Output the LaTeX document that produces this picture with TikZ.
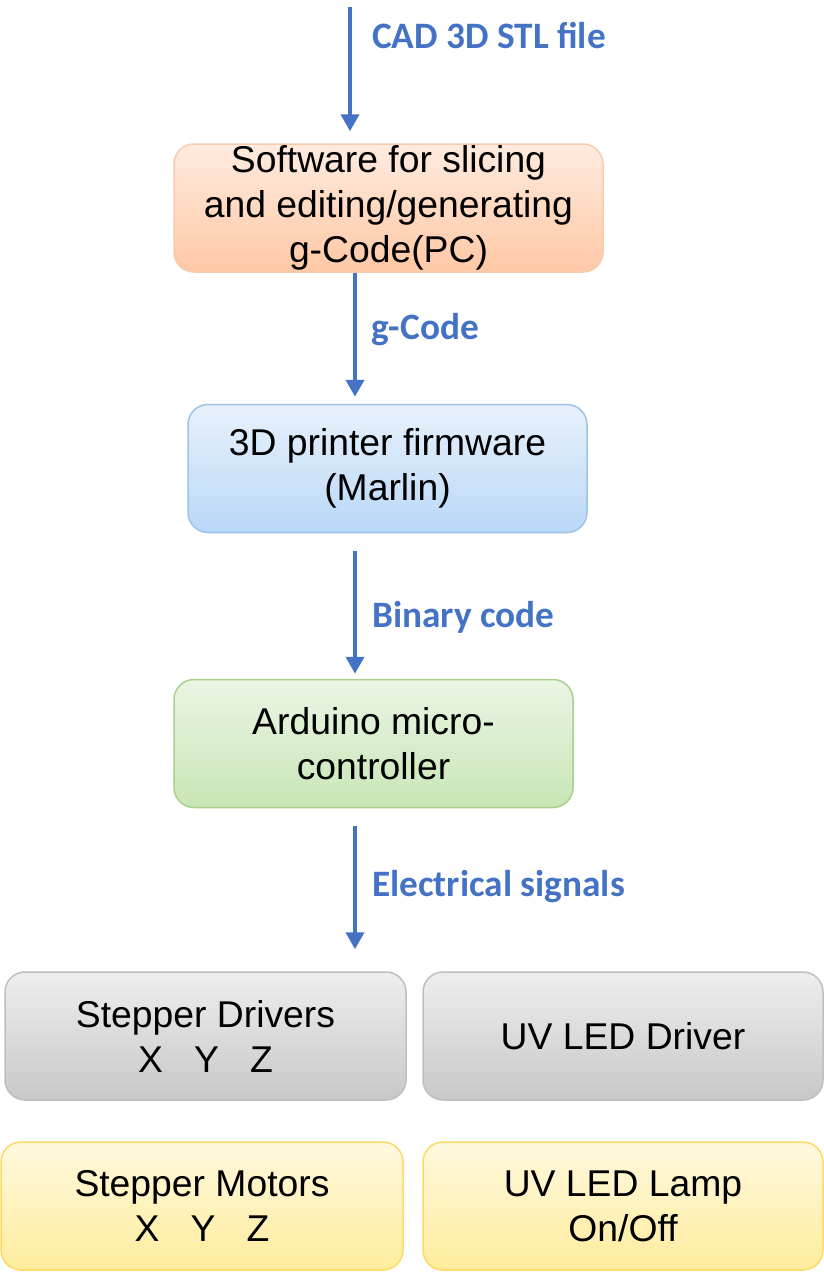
\documentclass[tikz,border=0pt]{standalone}
\usepackage{fontspec}
\usepackage{xcolor}
\setmainfont{Liberation Sans}
\newfontfamily\lblfont{Carlito}
\usetikzlibrary{arrows.meta}

\definecolor{flowblue}{HTML}{4472C4}
\definecolor{orgtop}{HTML}{FFEBDF}
\definecolor{orgbot}{HTML}{FFC8A5}
\definecolor{orgline}{HTML}{F8CBAD}
\definecolor{blutop}{HTML}{E8F1FB}
\definecolor{blubot}{HTML}{B9D8F8}
\definecolor{bluline}{HTML}{9DC3E6}
\definecolor{grntop}{HTML}{EBF5E4}
\definecolor{grnbot}{HTML}{C8E6B6}
\definecolor{grnline}{HTML}{A9D18E}
\definecolor{grytop}{HTML}{EEEEEE}
\definecolor{grybot}{HTML}{C8C8C8}
\definecolor{gryline}{HTML}{BFBFBF}
\definecolor{ylwtop}{HTML}{FFF9DE}
\definecolor{ylwbot}{HTML}{FFEC9D}
\definecolor{ylwline}{HTML}{FFD966}

\begin{document}
\begin{tikzpicture}[x=1pt,y=-1pt,
    block/.style={rounded corners=20pt, line width=1.5pt, align=center, inner sep=0pt,
        minimum height=128pt, font=\fontsize{37.3}{45}\selectfont},
    flow/.style={flowblue, line width=4pt, -{Triangle[width=18pt,length=17pt]}},
    lbl/.style={anchor=west, inner sep=0pt, text=flowblue, font=\lblfont\bfseries\fontsize{37.3}{45}\selectfont}]
    \useasboundingbox (0,0) rectangle (824,1275);

    \node[block, minimum width=429pt, draw=orgline, top color=orgtop, bottom color=orgbot] (soft) at (388.5,208)
        {Software for slicing\\and editing/generating\\g-Code(PC)};
    \node[block, minimum width=399pt, draw=bluline, top color=blutop, bottom color=blubot] (firm) at (387.5,468.5)
        {3D printer firmware\\(Marlin)};
    \node[block, minimum width=399pt, draw=grnline, top color=grntop, bottom color=grnbot] (ard) at (373.5,743.5)
        {Arduino micro-\\controller};
    \node[block, minimum width=401pt, draw=gryline, top color=grytop, bottom color=grybot] (sdrv) at (205.5,1036)
        {Stepper Drivers\\X~~~Y~~~Z};
    \node[block, minimum width=400pt, draw=gryline, top color=grytop, bottom color=grybot] (uvdrv) at (623,1036)
        {UV LED Driver};
    \node[block, minimum width=402pt, draw=ylwline, top color=ylwtop, bottom color=ylwbot] (smot) at (202,1206)
        {Stepper Motors\\X~~~Y~~~Z};
    \node[block, minimum width=400pt, draw=ylwline, top color=ylwtop, bottom color=ylwbot] (uvlamp) at (623,1206)
        {UV LED Lamp\\On/Off};

    \coordinate (cad) at (350,7);
    \coordinate (spine) at (355,0);
    \draw[flow, shorten >=12pt] (cad) -- (cad |- soft.north);
    \draw[flow, shorten >=7pt] (soft.south -| spine) -- (firm.north -| spine);
    \draw[flow, shorten <=18pt, shorten >=5pt] (firm.south -| spine) -- (ard.north -| spine);
    \draw[flow, shorten <=18pt, shorten >=22pt] (ard.south -| spine) -- (sdrv.north -| spine);

    \node[lbl] (lcad) at (372,36) {CAD 3D STL file};
    \node[lbl] (lgc) at (371,330) {g-Code};
    \node[lbl] (lbin) at (372,617) {Binary code};
    \node[lbl] (lsig) at (372,887) {Electrical signals};
\end{tikzpicture}
\end{document}
